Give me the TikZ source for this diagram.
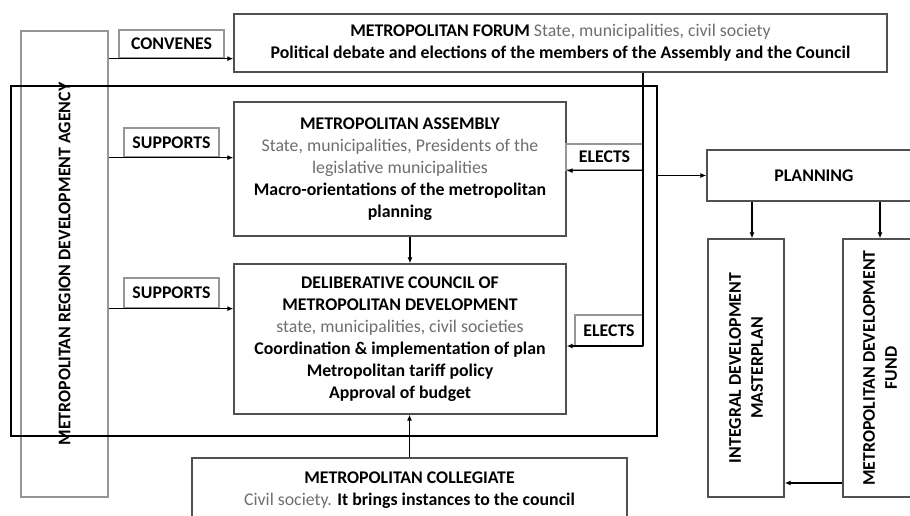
\documentclass[tikz,border=0pt]{standalone}
\usepackage{fontspec}
\setmainfont{Carlito}
\usetikzlibrary{arrows.meta}
\tikzset{>={Latex[length=6pt,width=5pt]}}
\definecolor{mygray1}{RGB}{110, 110, 110}
\definecolor{mygray2}{RGB}{80, 80, 80}
\definecolor{mygray3}{RGB}{150, 150, 150}

\begin{document}
\begin{tikzpicture}[
    x = 1pt, y = -1pt,
    every node/.style = {font = \fontsize{17.8}{22}\selectfont, inner sep = 0, align = center},
    box/.style = {draw = mygray2, line width = 1.3},
    tag/.style = {draw = mygray3, line width = 1.3, font = \fontsize{17.8}{22}\selectfont\bfseries},
    d0/.style = {line width = 1.5}
]
\useasboundingbox (0,0) rectangle (910,516);
\clip (0,0) rectangle (910,516);

\node[box, draw = mygray3, rotate = 90, minimum width = 466, minimum height = 87] (agency) at (64.5, 264) {\textbf{METROPOLITAN REGION DEVELOPMENT AGENCY}};
\node[box, minimum width = 653, minimum height = 58] (forum) at (560.5, 43)
    {\textbf{METROPOLITAN FORUM} {\color{mygray1}State, municipalities, civil society}\\
     \textbf{Political debate and elections of the members of the Assembly and the Council}};
\node[draw, line width = 1.8, minimum width = 646, minimum height = 350] (frame) at (334, 261) {};
\node[box, minimum width = 332, minimum height = 134] (assembly) at (400, 169)
    {\textbf{METROPOLITAN ASSEMBLY}\\
     {\color{mygray1}State, municipalities, Presidents of the}\\
     {\color{mygray1}legislative municipalities}\\
     \textbf{Macro-orientations of the metropolitan}\\
     \textbf{planning}};
\node[box, minimum width = 332, minimum height = 150] (council) at (400, 339)
    {\textbf{DELIBERATIVE COUNCIL OF}\\
     \textbf{METROPOLITAN DEVELOPMENT}\\
     {\color{mygray1}state, municipalities, civil societies}\\
     \textbf{Coordination \& implementation of plan}\\
     \textbf{Metropolitan tariff policy}\\
     \textbf{Approval of budget}};
\node[box, minimum width = 435, minimum height = 64] (collegiate) at (409.5, 490)
    {\textbf{METROPOLITAN COLLEGIATE}\\
     {\color{mygray1}Civil society.} \textbf{It brings instances to the council}};
\node[box, minimum width = 214, minimum height = 51] (planning) at (814, 175.5) {\textbf{PLANNING}};
\node[box, rotate = 90, minimum width = 258, minimum height = 76] (masterplan) at (746, 368)
    {\textbf{INTEGRAL DEVELOPMENT}\\ \textbf{MASTERPLAN}};
\node[box, rotate = 90, minimum width = 258, minimum height = 74] (fund) at (880, 368)
    {\textbf{METROPOLITAN DEVELOPMENT}\\ \textbf{FUND}};

\node[tag, minimum width = 105, minimum height = 28] (convenes) at (171.5, 44) {CONVENES};
\node[tag, minimum width = 95, minimum height = 29] (supports1) at (171.5, 142.5) {SUPPORTS};
\node[tag, minimum width = 95, minimum height = 30] (supports2) at (171.5, 293) {SUPPORTS};
\node[tag, minimum width = 77, minimum height = 26] (elects1) at (604.5, 157) {ELECTS};
\node[tag, minimum width = 68, minimum height = 31] (elects2) at (609, 330.5) {ELECTS};

\coordinate (fdrop) at (643, 346);

\draw[d0, ->] (agency.south |- convenes.south) -- (forum.west |- convenes.south);
\draw[d0, ->] (agency.south |- supports1.south) -- (assembly.west |- supports1.south);
\draw[d0, ->] (agency.south |- supports2.south) -- (council.west |- supports2.south);

\draw[d0] (forum.south -| fdrop) -- (fdrop);
\draw[d0, ->] (fdrop |- elects1.south) -- (assembly.east |- elects1.south);
\draw[d0, ->] (fdrop) -- (council.east |- fdrop);

\draw[d0, ->] ([xshift = 10]assembly.south) -- ([xshift = 10]assembly.south |- council.north);
\draw[d0, ->] (collegiate.north) -- (collegiate.north |- council.south);

\draw[d0, ->] (frame.east |- planning.west) -- (planning.west);
\draw[d0, ->] ([xshift = 6]planning.south -| masterplan) -- ([xshift = 6]masterplan.east);
\draw[d0, ->] (planning.south -| fund) -- (fund.east);
\draw[d0, ->] (fund.north |- 0, 483) -- (masterplan.south |- 0, 483);

\end{tikzpicture}
\end{document}
